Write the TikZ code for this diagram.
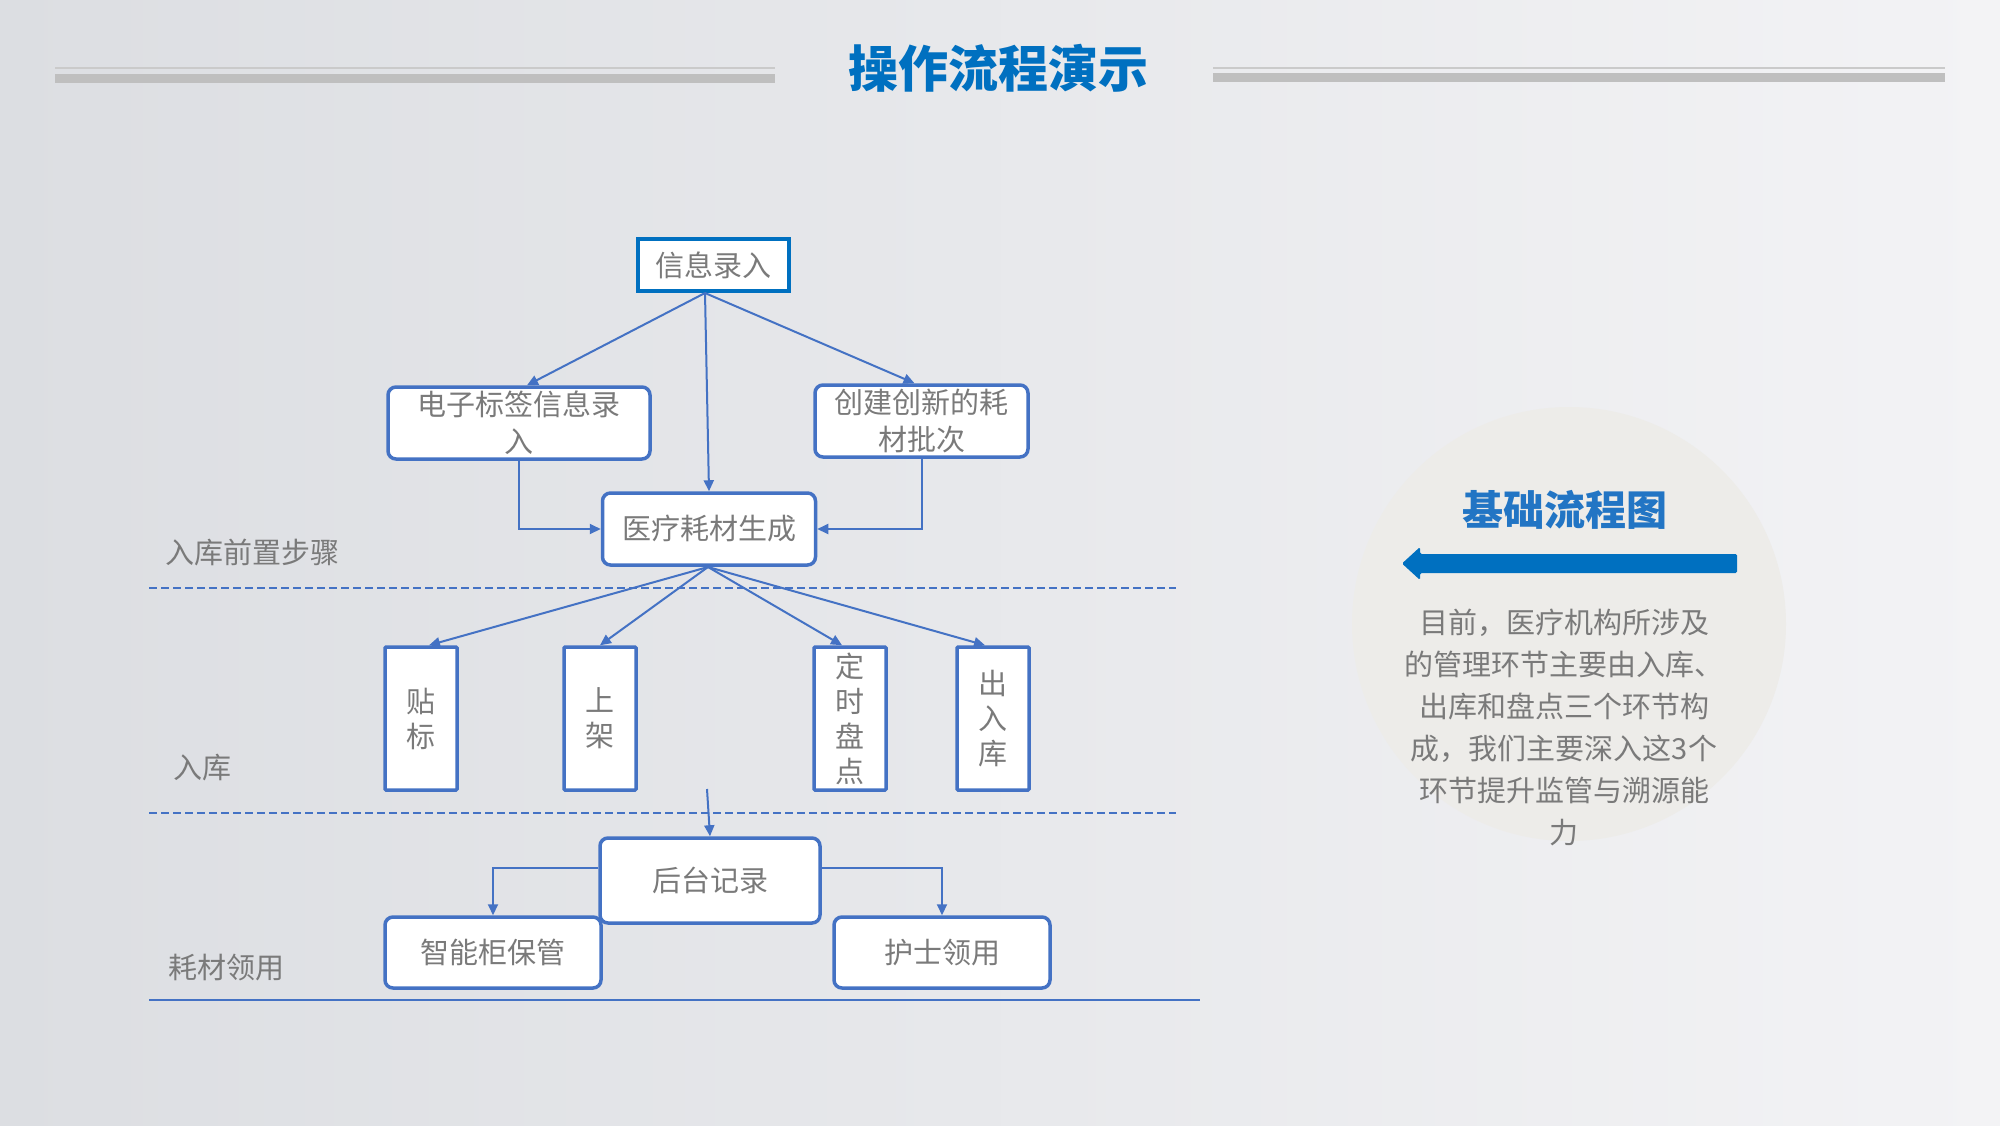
\documentclass[tikz,border=0pt]{standalone}
\usepackage{fontspec}
\newfontfamily\cjk{Noto Sans CJK SC}
\usetikzlibrary{arrows.meta,calc}
\definecolor{boxblue}{HTML}{4472C4}
\definecolor{titleblue}{HTML}{0070C0}
\definecolor{txtgray}{HTML}{7A7A7A}
\definecolor{bgL}{HTML}{DCDEE2}
\definecolor{bgR}{HTML}{F3F3F5}
\definecolor{circfill}{HTML}{EDECE9}
\definecolor{lineg}{HTML}{BFBFBF}
\definecolor{lineth}{HTML}{CACACA}
\definecolor{subblue}{HTML}{2275C4}
\tikzset{
  box/.style={draw=boxblue, line width=3.5pt, fill=white, rounded corners=8pt, inner sep=0pt,
    font=\cjk\fontsize{29}{37}\selectfont, text=txtgray, align=center},
  vbox/.style={box, rounded corners=1pt, minimum width=72pt, minimum height=143pt,
    font=\cjk\fontsize{29}{35}\selectfont},
  arr/.style={draw=boxblue, line width=2pt, -{Triangle[length=11pt,width=10pt]}},
  lbl/.style={font=\cjk\fontsize{29}{34}\selectfont, text=txtgray, anchor=west, inner sep=0pt},
  sep/.style={draw=boxblue, line width=1.6pt}
}
\begin{document}
\begin{tikzpicture}[x=1pt,y=-1pt]
\useasboundingbox (0,0) rectangle (2000,1125);
\shade[left color=bgL, right color=bgR] (0,0) rectangle (2000,1125);

% title and rules
\node[font=\cjk\bfseries\fontsize{50}{52}\selectfont, text=titleblue, inner sep=0pt] (title) at (998,68) {操作流程演示};
\draw[lineth, line width=2pt] (55,68) -- (775,68);
\fill[lineg] (55,74) rectangle (775,83);
\draw[lineth, line width=2pt] (1213,68) -- (1945,68);
\fill[lineg] (1213,73) rectangle (1945,82);

% right panel
\fill[circfill] (1569,624) circle (217);
\node[font=\cjk\bfseries\fontsize{41}{44}\selectfont, text=subblue, inner sep=0pt] (sub) at (1565,510) {基础流程图};
\fill[titleblue, rounded corners=1.5pt] (1402,563.5) -- (1420,547) -- (1420,554) -- (1737,554) -- (1737,573) -- (1420,573) -- (1420,580) -- cycle;
\node[font=\cjk\fontsize{29}{42}\selectfont, text=txtgray, align=center, inner sep=0pt] (para) at (1564,727)
 {目前，医疗机构所涉及\\的管理环节主要由入库、\\出库和盘点三个环节构\\成，我们主要深入这3个\\环节提升监管与溯源能\\力};

% lane separators
\draw[sep, dash pattern=on 8pt off 4pt] (149,588) -- (1176,588);
\draw[sep, dash pattern=on 8pt off 4pt] (149,813) -- (1176,813);
\draw[sep] (149,1000) -- (1200,1000);

% lane labels
\node[lbl] (l1) at (165,552) {入库前置步骤};
\node[lbl] (l2) at (173,768) {入库};
\node[lbl] (l3) at (168,968) {耗材领用};

% nodes
\node[box, draw=titleblue, line width=4pt, rounded corners=0pt, minimum width=151pt, minimum height=52pt] (xinxi) at (713.5,265) {信息录入};
\node[box, minimum width=262pt, minimum height=72pt] (dianzi) at (519,423) {电子标签信息录\\入};
\node[box, minimum width=213pt, minimum height=72pt] (chuang) at (921.5,421) {创建创新的耗\\材批次};
\node[box, minimum width=213pt, minimum height=72pt] (yiliao) at (709,529) {医疗耗材生成};

\node[vbox] (tie) at (421,718.5) {贴\\标};
\node[vbox] (shang) at (600,718.5) {上\\架};
\node[vbox] (ding) at (850,718.5) {定\\时\\盘\\点};
\node[vbox] (chu) at (993,718.5) {出\\入\\库};

\node[box, minimum width=220pt, minimum height=85pt] (houtai) at (710,880.5) {后台记录};
\node[box, minimum width=216pt, minimum height=71pt] (zhineng) at (493,952.5) {智能柜保管};
\node[box, minimum width=216pt, minimum height=71pt] (hushi) at (942,952.5) {护士领用};

% connectors
\coordinate (src) at (705,293);
\draw[arr] (src) -- ($(dianzi.north)+(8,0)$);
\draw[arr] (src) -- (yiliao.north);
\draw[arr] (src) -- ($(chuang.north)+(-7,0)$);
\draw[arr] (dianzi.south) |- (yiliao.west);
\draw[arr] (chuang.south) |- (yiliao.east);

\coordinate (src2) at (708,567);
\draw[arr] (src2) -- ($(tie.north)+(8,0)$);
\draw[arr] (src2) -- (shang.north);
\draw[arr] (src2) -- ($(ding.north)+(-8,0)$);
\draw[arr] (src2) -- ($(chu.north)+(-8,0)$);

\coordinate (src3) at (707,789);
\draw[arr] (src3) -- (houtai.north);
\draw[arr] ($(houtai.west)+(0,-13)$) -| (zhineng.north);
\draw[arr] ($(houtai.east)+(0,-13)$) -| (hushi.north);
\end{tikzpicture}
\end{document}
